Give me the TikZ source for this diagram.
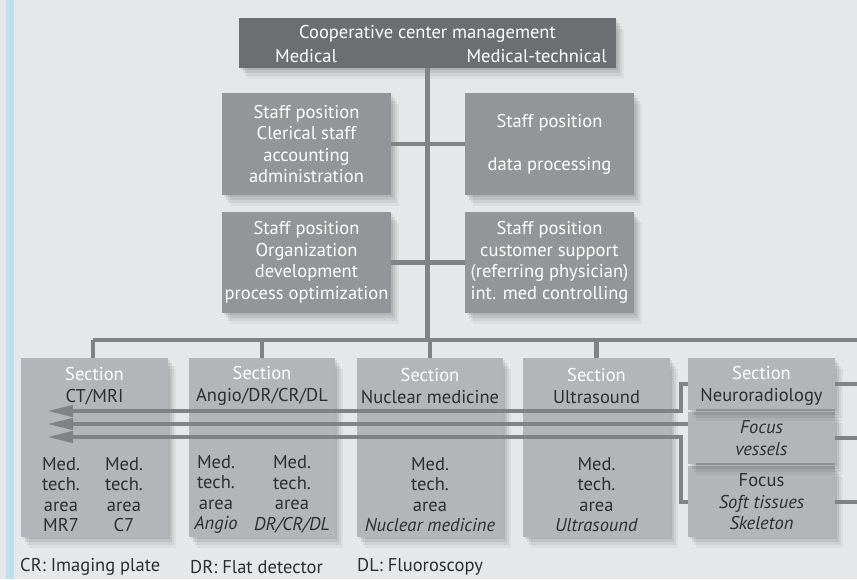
\documentclass[tikz,border=0pt]{standalone}
\usepackage{fontspec}
\setmainfont{PT Sans}
\usetikzlibrary{arrows.meta,shadows}
\definecolor{bg}{HTML}{E6E7E8}
\definecolor{bluebar}{HTML}{BEE0EF}
\definecolor{topbox}{HTML}{6D6E71}
\definecolor{staffbox}{HTML}{939598}
\definecolor{secbox}{HTML}{B3B5B8}
\definecolor{conn}{HTML}{808285}
\definecolor{sepcol}{HTML}{8E9093}
\definecolor{txt}{HTML}{2E2E2E}
\newcommand{\fs}{\fontsize{18.5pt}{21.5pt}\selectfont}
\newcommand{\fsb}{\fontsize{18.5pt}{20.5pt}\selectfont}
\begin{document}
\begin{tikzpicture}[x=1pt,y=-1pt,
  shad/.style={
    general shadow={fill=black,opacity=0.07,shadow xshift=2pt,shadow yshift=-2pt},
    general shadow={fill=black,opacity=0.07,shadow xshift=4pt,shadow yshift=-5pt},
    general shadow={fill=black,opacity=0.06,shadow xshift=6pt,shadow yshift=-8pt},
    general shadow={fill=black,opacity=0.04,shadow xshift=8pt,shadow yshift=-11pt}},
  box/.style={draw=none,inner sep=0pt,outer sep=0pt,shad},
  topstyle/.style={box,fill=topbox,minimum width=377pt,minimum height=50pt},
  staffstyle/.style={box,fill=staffbox,minimum width=169pt,minimum height=102pt,text=white,align=center,font=\fs},
  secstyle/.style={box,fill=secbox,minimum width=147pt,minimum height=179pt},
  neustyle/.style={box,fill=secbox,minimum width=147pt},
  wtext/.style={text=white,font=\fs,inner sep=0pt},
  stext/.style={text=txt,font=\fs,align=center,inner sep=0pt},
  btext/.style={text=txt,font=\fsb,align=center,inner sep=0pt},
  tree/.style={draw=conn,line width=4.5pt},
  stub/.style={draw=conn,line width=4pt},
  arr/.style={draw=conn,line width=4pt,-{Triangle[length=26pt,width=11pt]}},
  sep/.style={draw=sepcol,line width=2.5pt}
]
\useasboundingbox (0,0) rectangle (857,579);
\fill[bg] (0,0) rectangle (857,579);
\fill[bluebar] (6,0) rectangle (14,579);

\coordinate (barL) at (93,340);
\coordinate (barR) at (857,340);
\coordinate (t1) at (47,411);
\coordinate (t2) at (47,424);
\coordinate (t3) at (47,437);

\node[topstyle] (top) at (427.5,43) {};
\node[staffstyle] (st1) at (306.5,144) {Staff position\\Clerical staff\\accounting\\administration};
\node[staffstyle] (st2) at (549.5,144) {Staff position\\[21.5pt]data processing};
\node[staffstyle,minimum height=101pt] (st3) at (306.5,262.5) {Staff position\\Organization\\development\\process optimization};
\node[staffstyle,minimum height=101pt] (st4) at (549.5,262.5) {Staff position\\customer support\\(referring physician)\\int. med controlling};

\draw[tree] (top.south) -- (top.south |- barL);
\draw[tree] (st1.east) -- (st2.west);
\draw[tree] (st3.east) -- (st4.west);
\draw[tree] (barL) -- (barR);

\node[secstyle] (s1) at (94.5,447.5) {};
\node[secstyle,minimum width=146pt] (s2) at (262,447.5) {};
\node[secstyle,minimum width=146pt] (s3) at (430,447.5) {};
\node[secstyle] (s4) at (596.5,447.5) {};
\draw[tree] (s1.north -| barL) -- (barL);
\draw[tree] (s2.north) -- (s2.north |- barL);
\draw[tree] (s3.north) -- (s3.north |- barL);
\draw[tree] (s4.north) -- (s4.north |- barL);

\node[neustyle,minimum height=71pt] (n3) at (761.5,501.5) {};
\node[neustyle,minimum height=52pt] (n2) at (761.5,438) {};
\node[neustyle,minimum height=52pt] (n1) at (761.5,384) {};
\draw[sep] (n1.south west) ++(8,0) -- (n1.south east);
\draw[sep] (n2.south west) ++(8,0) -- (n2.south east);

\draw[stub] (n1.east) -- (n1.east -| barR);
\draw[stub] (n2.east) -- (n2.east -| barR);
\draw[stub] (n3.east) -- (n3.east -| barR);

\node[wtext] (toptitle) at (427.5,33.5) {Cooperative center management};
\node[wtext,anchor=west] (topmed) at (275,56.5) {Medical};
\node[wtext,anchor=east] (topmt) at (607,56.5) {Medical-technical};

\node[stext] (h1) at (94.5,386) {\textcolor{white}{Section}\\CT/MRI};
\node[stext] (h2) at (262,386) {\textcolor{white}{Section}\\Angio/DR/CR/DL};
\node[stext] (h3) at (430,386) {\textcolor{white}{Section}\\Nuclear medicine};
\node[stext] (h4) at (596.5,386) {\textcolor{white}{Section}\\Ultrasound};
\node[stext] (h5) at (761.5,386) {\textcolor{white}{Section}\\Neuroradiology};
\node[stext] (f2) at (761.5,438) {\textit{Focus}\\\textit{vessels}};
\node[stext] (f3) at (761.5,502) {Focus\\\textit{Soft tissues}\\\textit{Skeleton}};

\node[btext] (b1a) at (61,494.5) {Med.\\tech.\\area\\MR7};
\node[btext] (b1b) at (124,494.5) {Med.\\tech.\\area\\C7};
\node[btext] (b2a) at (216,494.5) {Med.\\tech.\\area\\\textit{Angio}};
\node[btext] (b2b) at (292,494.5) {Med.\\tech.\\area\\\textit{DR/CR/DL}};
\node[btext] (b3) at (430,494.5) {Med.\\tech.\\area\\\textit{Nuclear medicine}};
\node[btext] (b4) at (596.5,494.5) {Med.\\tech.\\area\\\textit{Ultrasound}};

\draw[arr] (n1.west) -- ++(-7,0) |- (t1);
\draw[arr] (n2.west |- t2) -- (t2);
\draw[arr] (n3.west) -- ++(-7,0) |- (t3);

\node[stext,anchor=west] (fcr) at (20,567) {CR: Imaging plate};
\node[stext,anchor=west] (fdr) at (190,567) {DR: Flat detector};
\node[stext,anchor=west] (fdl) at (357,567) {DL: Fluoroscopy};
\end{tikzpicture}
\end{document}
